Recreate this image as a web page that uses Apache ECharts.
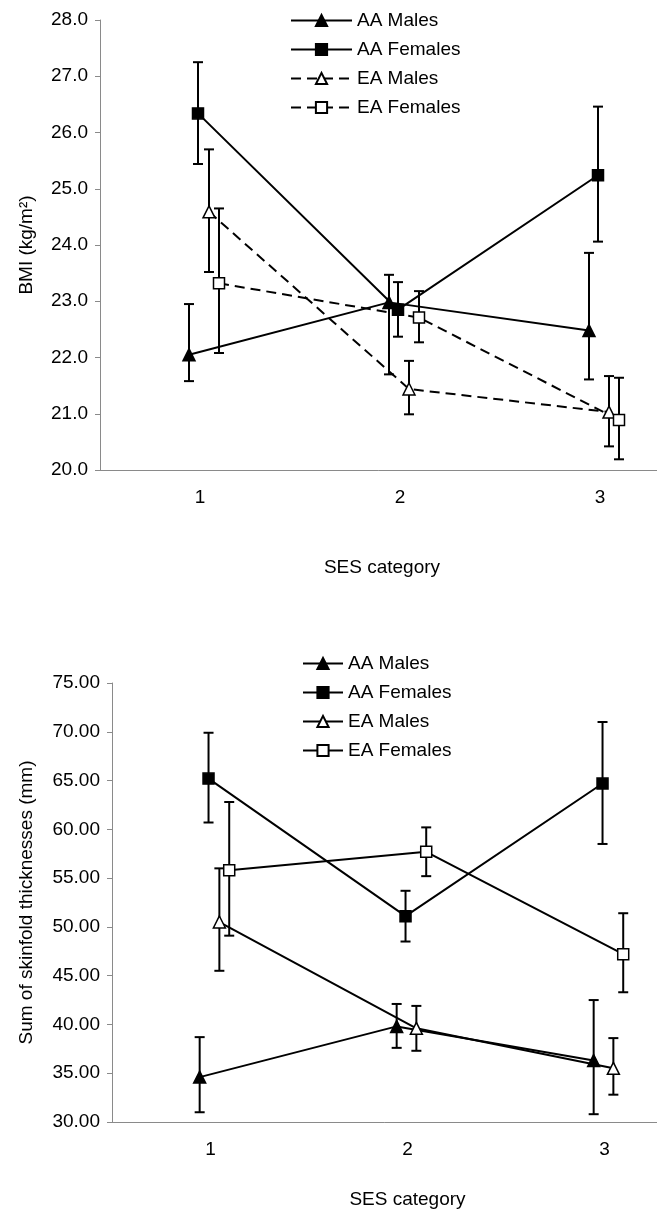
<!DOCTYPE html>
<html>
<head>
<meta charset="utf-8">
<script src="https://cdn.jsdelivr.net/npm/echarts@6/dist/echarts.min.js"></script>
<style>
  html, body { margin: 0; padding: 0; background: #fff; }
  #chart { width: 657px; height: 1212px; }
</style>
</head>
<body>
<div id="chart"></div>
<script>
// SES categories on the x axis
const sesCategories = [1, 2, 3]
const groupNames = ['AA Males', 'AA Females', 'EA Males', 'EA Females']

// BMI (kg/m2): mean, lower and upper end of the error bar
const bmiAAMales = [22.05, 22.98, 22.48]
const bmiAAMalesLow = [21.58, 21.70, 21.61]
const bmiAAMalesHigh = [22.95, 23.47, 23.86]
const bmiAAFemales = [26.34, 22.85, 25.24]
const bmiAAFemalesLow = [25.44, 22.37, 24.06]
const bmiAAFemalesHigh = [27.25, 23.34, 26.46]
const bmiEAMales = [24.59, 21.44, 21.03]
const bmiEAMalesLow = [23.52, 20.99, 20.42]
const bmiEAMalesHigh = [25.70, 21.94, 21.67]
const bmiEAFemales = [23.32, 22.71, 20.89]
const bmiEAFemalesLow = [22.08, 22.27, 20.19]
const bmiEAFemalesHigh = [24.65, 23.18, 21.64]

// Sum of skinfold thicknesses (mm)
const sfAAMales = [34.6, 39.8, 36.3]
const sfAAMalesLow = [31.0, 37.6, 30.8]
const sfAAMalesHigh = [38.7, 42.1, 42.5]
const sfAAFemales = [65.2, 51.1, 64.7]
const sfAAFemalesLow = [60.7, 48.5, 58.5]
const sfAAFemalesHigh = [69.9, 53.7, 71.0]
const sfEAMales = [50.5, 39.6, 35.5]
const sfEAMalesLow = [45.5, 37.3, 32.8]
const sfEAMalesHigh = [56.0, 41.9, 38.6]
const sfEAFemales = [55.8, 57.7, 47.2]
const sfEAFemalesLow = [49.1, 55.2, 43.3]
const sfEAFemalesHigh = [62.8, 60.2, 51.4]

const FONT = "'Liberation Sans', Arial, sans-serif"
const AXIS_GRAY = '#8a8a8a'
// small horizontal shift of each group so the bars do not overlap
const xShift = [-0.055, -0.01, 0.045, 0.095]
const markers = [
  { symbol: 'triangle', size: 12, fill: '#000' },
  { symbol: 'rect', size: 11, fill: '#000' },
  { symbol: 'triangle', size: 12, fill: '#fff' },
  { symbol: 'rect', size: 11, fill: '#fff' },
]

// error bar: vertical line with a cap at both ends
function renderErrorBar(params, api) {
  const x = api.value(0)
  const top = api.coord([x, api.value(2)])
  const bottom = api.coord([x, api.value(1)])
  const half = 5
  const style = { stroke: '#000', lineWidth: 2, fill: null }
  return {
    type: 'group',
    children: [
      { type: 'line', shape: { x1: top[0], y1: top[1], x2: bottom[0], y2: bottom[1] }, style },
      { type: 'line', shape: { x1: top[0] - half, y1: top[1], x2: top[0] + half, y2: top[1] }, style },
      { type: 'line', shape: { x1: bottom[0] - half, y1: bottom[1], x2: bottom[0] + half, y2: bottom[1] }, style },
    ],
  }
}

function panelSeries(idx, suffix, means, lows, highs, dashedFlags) {
  const out = []
  means.forEach((mean, i) => {
    const m = markers[i]
    out.push({
      type: 'custom',
      name: groupNames[i] + suffix + ' err',
      xAxisIndex: idx,
      yAxisIndex: idx,
      renderItem: renderErrorBar,
      encode: { x: 0, y: [1, 2] },
      data: sesCategories.map((c, k) => [c + xShift[i], lows[i][k], highs[i][k]]),
      z: 1,
      silent: true,
    })
    out.push({
      type: 'line',
      name: groupNames[i] + suffix,
      xAxisIndex: idx,
      yAxisIndex: idx,
      data: sesCategories.map((c, k) => [c + xShift[i], mean[k]]),
      symbol: m.symbol,
      symbolSize: m.size,
      showSymbol: true,
      lineStyle: { color: '#000', width: 2, type: dashedFlags[i] ? [10, 6] : 'solid' },
      itemStyle: { color: m.fill, borderColor: '#000', borderWidth: 1.5 },
      z: 3,
    })
  })
  return out
}

function yAxis(idx, min, max, interval, digits, name, gap) {
  return {
    type: 'value', gridIndex: idx, min, max, interval,
    name, nameLocation: 'middle', nameGap: gap,
    nameTextStyle: { fontFamily: FONT, fontSize: 19, color: '#000' },
    axisLine: { show: true, lineStyle: { color: AXIS_GRAY, width: 1 } },
    axisTick: { show: true, length: 5, lineStyle: { color: AXIS_GRAY } },
    axisLabel: { fontFamily: FONT, fontSize: 19, color: '#000', margin: 12, formatter: v => v.toFixed(digits) },
    splitLine: { show: false },
  }
}

function xAxis(idx, gap, namePadRight) {
  return {
    type: 'value', gridIndex: idx, min: 0.5, max: 3.5,
    name: 'SES category', nameLocation: 'middle', nameGap: gap,
    nameTextStyle: { fontFamily: FONT, fontSize: 19, color: '#000', padding: [0, namePadRight, 0, 0] },
    axisLine: { show: true, onZero: false, lineStyle: { color: AXIS_GRAY, width: 1 } },
    axisTick: { show: false },
    axisLabel: { fontFamily: FONT, fontSize: 19, color: '#000', margin: 18, customValues: sesCategories },
    splitLine: { show: false },
  }
}

const chart = echarts.init(document.getElementById('chart'))
const skinSuffix = ' (skinfold)'

chart.setOption({
  animation: false,
  backgroundColor: '#fff',
  // the plot runs past the right edge of the picture, so do not squeeze it in
  grid: [
    { left: 100, top: 20, width: 600, height: 450, outerBoundsMode: 'none' },
    { left: 112, top: 683, width: 591, height: 439, outerBoundsMode: 'none' },
  ],
  xAxis: [xAxis(0, 88, 36), xAxis(1, 68, 0)],
  yAxis: [
    yAxis(0, 20, 28, 1, 1, 'BMI (kg/m²)', 64),
    yAxis(1, 30, 75, 5, 2, 'Sum of skinfold thicknesses (mm)', 76),
  ],
  legend: [
    {
      orient: 'vertical', left: 285, top: 6,
      itemWidth: 61, itemHeight: 14, itemGap: 10,
      selectedMode: false,
      data: groupNames,
      textStyle: { fontFamily: FONT, fontSize: 19, color: '#000' },
    },
    {
      orient: 'vertical', left: 297, top: 649,
      itemWidth: 40, itemHeight: 14, itemGap: 10,
      selectedMode: false,
      data: groupNames.map(n => n + skinSuffix),
      formatter: n => n.replace(skinSuffix, ''),
      textStyle: { fontFamily: FONT, fontSize: 19, color: '#000' },
    },
  ],
  series: [
    ...panelSeries(0, '',
      [bmiAAMales, bmiAAFemales, bmiEAMales, bmiEAFemales],
      [bmiAAMalesLow, bmiAAFemalesLow, bmiEAMalesLow, bmiEAFemalesLow],
      [bmiAAMalesHigh, bmiAAFemalesHigh, bmiEAMalesHigh, bmiEAFemalesHigh],
      [false, false, true, true]),
    ...panelSeries(1, skinSuffix,
      [sfAAMales, sfAAFemales, sfEAMales, sfEAFemales],
      [sfAAMalesLow, sfAAFemalesLow, sfEAMalesLow, sfEAFemalesLow],
      [sfAAMalesHigh, sfAAFemalesHigh, sfEAMalesHigh, sfEAFemalesHigh],
      [false, false, false, false]),
  ],
})
</script>
</body>
</html>
